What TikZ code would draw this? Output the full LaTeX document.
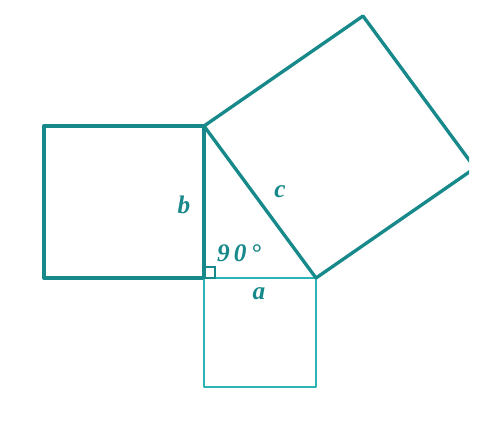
\documentclass[tikz,border=0pt]{standalone}
\usepackage{fontspec}
\setmainfont{Liberation Serif}
\definecolor{tealdark}{HTML}{17898A}
\definecolor{teallight}{HTML}{2CB4B8}
\tikzset{
    side/.style={draw=tealdark, line width=1.9pt, line join=round},
    thinside/.style={draw=teallight, line width=1.2pt, line join=round},
    lbl/.style={text=tealdark, font=\bfseries\itshape\Large, inner sep=0pt}
}

\begin{document}
\begin{tikzpicture}[x=0.02cm, y=-0.02cm]
        \useasboundingbox (0,0) rectangle (497,427);
        % points
        \coordinate (C) at (204,278);
        \coordinate (B) at (204,126);
        \coordinate (A) at (316,278);
        \coordinate (Bl) at (44,126);
        \coordinate (Cl) at (44,278);
        \coordinate (Cd) at (204,387);
        \coordinate (Ad) at (316,387);
        \coordinate (Bt) at (363,16);
        \coordinate (At) at (475,168);

        % squares
        \draw[side] (B) -- (Bl) -- (Cl) -- (C) -- cycle;
        \draw[thinside] (C) -- (Cd) -- (Ad) -- (A) -- cycle;
        \begin{scope}
            \clip (0,0) rectangle (469,427);
            \draw[side] (B) -- (Bt) -- (At) -- (A) -- cycle;
        \end{scope}

        % right angle
        \draw[tealdark, line width=1pt] (C) rectangle ++(11,-11);

        % labels
        \node[lbl] (lb) at (184,205) {b};
        \node[lbl] (lc) at (280,192) {c};
        \node[lbl] (la) at (259,294) {a};
        \node[lbl] (lr) at (239,253) {9\,0\,°};
\end{tikzpicture}
\end{document}
